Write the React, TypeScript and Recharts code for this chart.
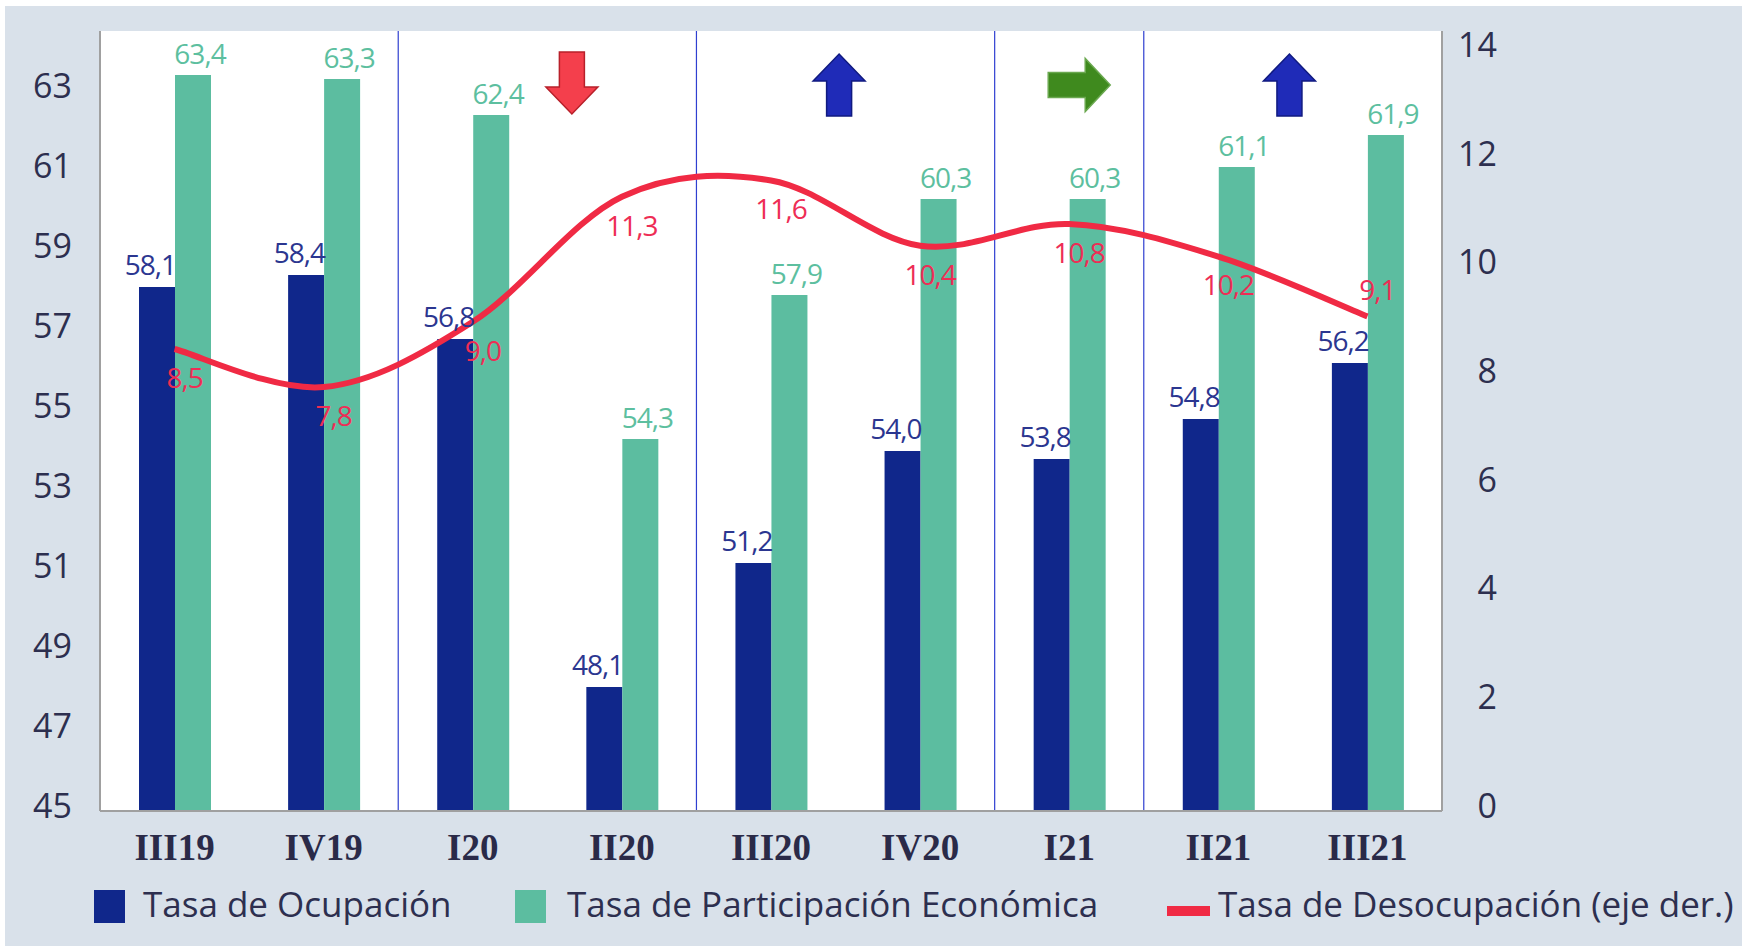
import React from 'react';
import {
    ComposedChart,
    Bar,
    Line,
    XAxis,
    YAxis,
    CartesianGrid,
    LabelList,
    ReferenceLine,
    ReferenceDot
} from 'recharts';

const quarters = ['III19', 'IV19', 'I20', 'II20', 'III20', 'IV20', 'I21', 'II21', 'III21'];
const ocupacion = [58.1, 58.4, 56.8, 48.1, 51.2, 54.0, 53.8, 54.8, 56.2];
const participacion = [63.4, 63.3, 62.4, 54.3, 57.9, 60.3, 60.3, 61.1, 61.9];
const desocupacion = [8.5, 7.8, 9.0, 11.3, 11.6, 10.4, 10.8, 10.2, 9.1];

const leftTicks = [45, 47, 49, 51, 53, 55, 57, 59, 61, 63];
const rightTicks = [0, 2, 4, 6, 8, 10, 12, 14];
const separators = ['I20', 'III20', 'I21', 'II21'];

const chartData = quarters.map((q, i) => ({
    q,
    ocup: ocupacion[i],
    part: participacion[i],
    desoc: desocupacion[i],
}));

const NAVY = '#10278b';
const GREEN = '#5cbda0';
const RED = '#f02a44';
const TEXT = '#2d2f4f';
const BORDER = '#a0a0a0';

const fmt = (v: number) => v.toFixed(1).replace('.', ',');

// smoothing like the spreadsheet one (catmull-rom through the points)
const smoothCurve = (context: any) => {
    let pts: [number, number][] = [];
    return {
        areaStart() {},
        areaEnd() {},
        lineStart() { pts = []; },
        point(x: number, y: number) { pts.push([+x, +y]); },
        lineEnd() {
            if (!pts.length) return;
            context.moveTo(pts[0][0], pts[0][1]);
            for (let i = 0; i < pts.length - 1; i++) {
                const p0 = pts[i - 1] || pts[i];
                const p1 = pts[i];
                const p2 = pts[i + 1];
                const p3 = pts[i + 2] || p2;
                context.bezierCurveTo(
                    p1[0] + (p2[0] - p0[0]) / 6, p1[1] + (p2[1] - p0[1]) / 6,
                    p2[0] - (p3[0] - p1[0]) / 6, p2[1] - (p3[1] - p1[1]) / 6,
                    p2[0], p2[1]
                );
            }
        },
    };
};

const LeftTick = (props: any) => (
    <text x={props.x - 28} y={props.y - 5} dy="0.35em" textAnchor="end"
        fontFamily="Open Sans" fontSize={34} fill={TEXT}>
        {props.payload.value}
    </text>
);

const RightTick = (props: any) => (
    <text x={props.x + 55} y={props.y - 5} dy="0.35em" textAnchor="end"
        fontFamily="Open Sans" fontSize={34} fill={TEXT}>
        {props.payload.value}
    </text>
);

const XTick = (props: any) => (
    <text x={props.x} y={props.y + 36} dy="0.35em" textAnchor="middle"
        fontFamily="Liberation Serif" fontWeight="bold" fontSize={37} fill="#2a2a48">
        {props.payload.value}
    </text>
);

const OcupLabel = (props: any) => (
    <text x={props.x + props.width + 1} y={props.y - 22} dy="0.35em" textAnchor="end"
        fontFamily="Open Sans" fontSize={28} fill="#2b3690" letterSpacing={-1}>
        {fmt(props.value)}
    </text>
);

const PartLabel = (props: any) => (
    <text x={props.x + props.width / 2 + 7} y={props.y - 21} dy="0.35em" textAnchor="middle"
        fontFamily="Open Sans" fontSize={28} fill="#5dbf9f" letterSpacing={-1}>
        {fmt(props.value)}
    </text>
);

const DesocLabel = (props: any) => {
    const last = props.index === desocupacion.length - 1;
    return (
        <text x={props.x + 10} y={props.y + (last ? -26 : 29)} dy="0.35em" textAnchor="middle"
            fontFamily="Open Sans" fontSize={28} fill="#ee2d55" letterSpacing={-1}>
            {fmt(props.value)}
        </text>
    );
};

const arrow = (dir: 'up' | 'down' | 'right', dx: number) => (props: any) => {
    const x = props.cx + dx;
    const y = props.cy;
    let pts: number[][];
    let fill: string;
    let stroke: string;
    if (dir === 'right') {
        pts = [[-31, -12.5], [6, -12.5], [6, -26.5], [31, 0], [6, 26.5], [6, 12.5], [-31, 12.5]];
        fill = '#3f8a1e';
        stroke = '#6aa84f';
    } else {
        const s = dir === 'down' ? 1 : -1;
        pts = [[-12.5, -31 * s], [12.5, -31 * s], [12.5, 4 * s], [26, 4 * s], [0, 31 * s], [-26, 4 * s], [-12.5, 4 * s]];
        fill = dir === 'down' ? '#f43f4c' : '#1f2bb8';
        stroke = dir === 'down' ? '#b8202a' : '#101a80';
    }
    return (
        <polygon points={pts.map(p => `${x + p[0]},${y + p[1]}`).join(' ')}
            fill={fill} stroke={stroke} strokeWidth={1.5} />
    );
};

const legendItems = [
    { label: 'Tasa de Ocupación', color: NAVY, kind: 'box', x: 94, tx: 143 },
    { label: 'Tasa de Participación Económica', color: GREEN, kind: 'box', x: 515, tx: 567 },
    { label: 'Tasa de Desocupación (eje der.)', color: RED, kind: 'line', x: 1167, tx: 1218 },
];

export default function App() {
    return (
        <div style={{ position: 'absolute', left: 0, top: 0, width: 1742, height: 946, background: '#fff' }}>
            <div style={{ position: 'absolute', left: 5, top: 6, width: 1737, height: 940, background: '#d9e1ea' }} />
            <div style={{ position: 'absolute', left: 0, top: 0 }}>
                <ComposedChart width={1742} height={946} data={chartData}
                    margin={{ top: 31, right: 220, left: 0, bottom: 65 }} barGap={0}>
                    <CartesianGrid horizontal={false} vertical={false} fill="#ffffff" fillOpacity={1} yAxisId="left" />
                    <XAxis dataKey="q" height={70} tickLine={false} tickSize={0} tickMargin={0}
                        axisLine={{ stroke: BORDER, strokeWidth: 2 }} tick={<XTick />} interval={0} />
                    <XAxis xAxisId="top" dataKey="q" orientation="top" height={0} tick={false} tickLine={false}
                        axisLine={{ stroke: '#8a8a8a', strokeWidth: 2 }} />
                    <YAxis yAxisId="left" width={100} domain={[45, 64.5]} ticks={leftTicks} allowDataOverflow
                        tickLine={false} tickSize={0} tickMargin={0}
                        axisLine={{ stroke: BORDER, strokeWidth: 2 }} tick={<LeftTick />} />
                    <YAxis yAxisId="right" orientation="right" width={80} domain={[0, 14.35]} ticks={rightTicks}
                        allowDataOverflow tickLine={false} tickSize={0} tickMargin={0}
                        axisLine={{ stroke: BORDER, strokeWidth: 2 }} tick={<RightTick />} />
                    {separators.map(s => (
                        <ReferenceLine key={s} x={s} yAxisId="left" position="start" stroke="#2f3fd0" strokeWidth={1.2} />
                    ))}
                    <Bar yAxisId="left" dataKey="ocup" name="Tasa de Ocupación" fill={NAVY} barSize={36}
                        isAnimationActive={false}>
                        <LabelList dataKey="ocup" content={<OcupLabel />} />
                    </Bar>
                    <Bar yAxisId="left" dataKey="part" name="Tasa de Participación Económica" fill={GREEN} barSize={36}
                        isAnimationActive={false}>
                        <LabelList dataKey="part" content={<PartLabel />} />
                    </Bar>
                    <Line yAxisId="right" dataKey="desoc" name="Tasa de Desocupación (eje der.)" type={smoothCurve as any}
                        stroke={RED} strokeWidth={6} dot={false} activeDot={false} isAnimationActive={false}>
                        <LabelList dataKey="desoc" content={<DesocLabel />} />
                    </Line>
                    <ReferenceDot yAxisId="left" x="II20" y={63.2} r={0} shape={arrow('down', -50)} />
                    <ReferenceDot yAxisId="left" x="IV20" y={63.15} r={0} shape={arrow('up', -81)} />
                    <ReferenceDot yAxisId="left" x="I21" y={63.15} r={0} shape={arrow('right', 10)} />
                    <ReferenceDot yAxisId="left" x="III21" y={63.15} r={0} shape={arrow('up', -78)} />
                </ComposedChart>
            </div>
            <svg width={1742} height={946} style={{ position: 'absolute', left: 0, top: 0, pointerEvents: 'none' }}>
                {legendItems.map(item => (
                    <g key={item.label}>
                        {item.kind === 'box'
                            ? <rect x={item.x} y={890} width={31} height={33} fill={item.color} />
                            : <rect x={item.x} y={906} width={43} height={10} fill={item.color} />}
                        <text x={item.tx} y={917} fontFamily="Open Sans" fontSize={35} fill={TEXT}>{item.label}</text>
                    </g>
                ))}
            </svg>
        </div>
    );
}
